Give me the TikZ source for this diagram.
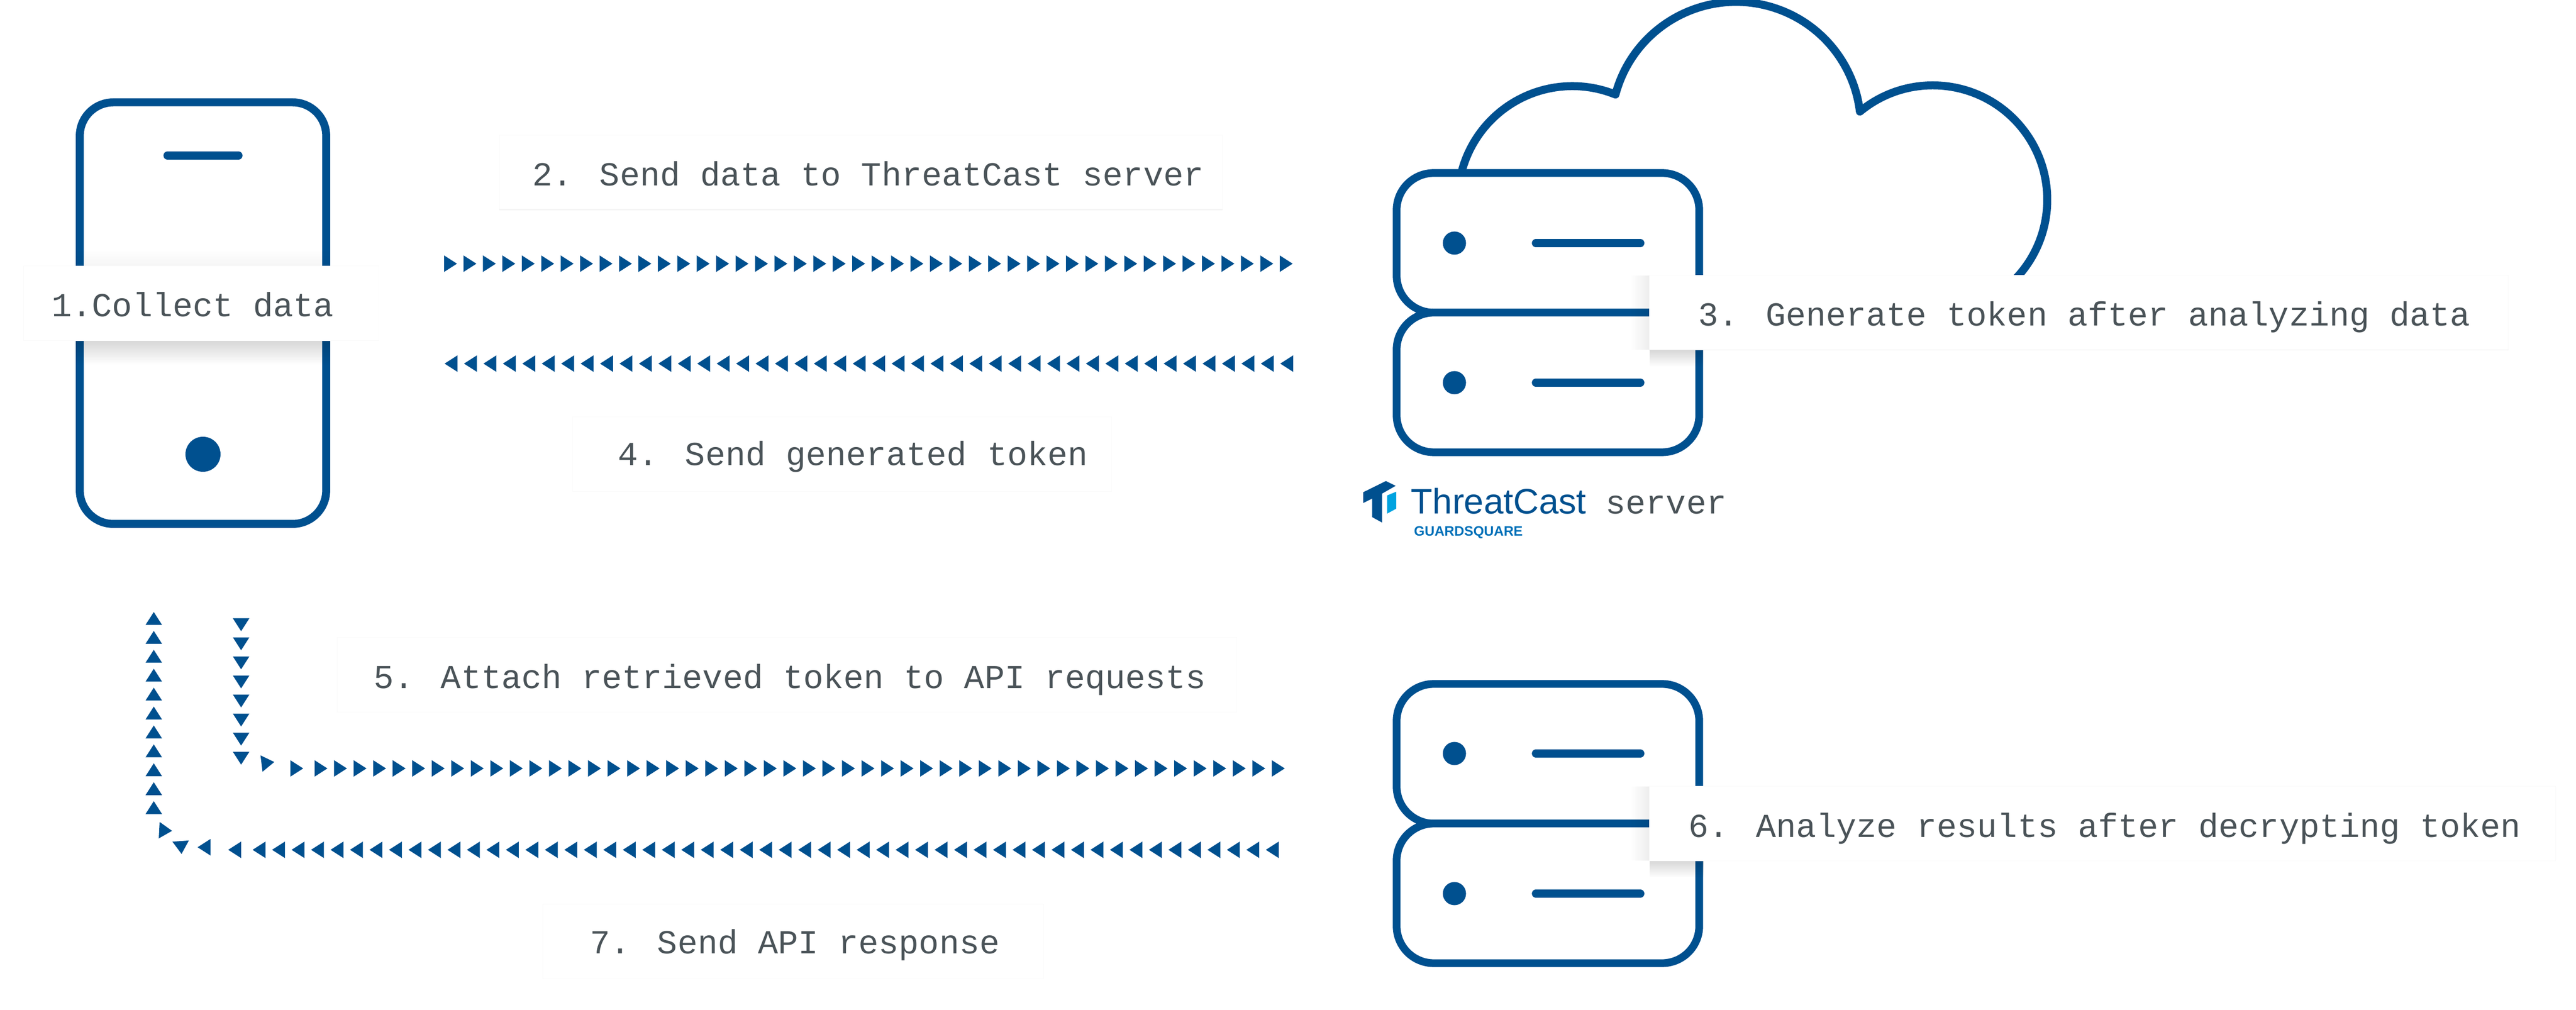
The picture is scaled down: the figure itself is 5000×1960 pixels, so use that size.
\documentclass[tikz,border=0pt]{standalone}
\usepackage{fontspec}
\usetikzlibrary{decorations.markings, fadings}
\newfontfamily\stepfont{Liberation Mono}
\newfontfamily\brandfont{Liberation Sans}
\definecolor{iconBlue}{HTML}{00508F}
\definecolor{stepGray}{HTML}{4A5358}
\definecolor{logoSky}{HTML}{00A3E0}
\definecolor{squareBlue}{HTML}{0070B8}
\tikzfading[name=fadeDown, top color=transparent!0, bottom color=transparent!100]
\tikzfading[name=fadeUp, bottom color=transparent!0, top color=transparent!100]
\tikzfading[name=fadeLeft, right color=transparent!0, left color=transparent!100]
\tikzset{triMark/.pic={\fill [iconBlue] (-1.25mm,-1.6mm) -- (1.25mm,0) -- (-1.25mm,1.6mm) -- cycle;}}
\tikzstyle{triChain} = [decorate, decoration={markings, mark=between positions 0 and 1 step #1 with {\pic [transform shape] {triMark};}}]
\tikzstyle{iconBox} = [rectangle, draw=iconBlue, line width=1.5mm, fill=white, rounded corners=7.2mm, minimum width=5.87cm, minimum height=2.71cm]
\tikzstyle{iconDot} = [circle, fill=iconBlue, inner sep=0pt, minimum size=4.5mm]
\tikzstyle{iconLine} = [draw=iconBlue, line width=1.55mm, line cap=round, line join=round]
\tikzstyle{stepCard} = [rectangle, fill=white, draw=black!2, line width=0.1mm, minimum height=1.44cm]
\tikzstyle{stepText} = [anchor=base west, inner sep=0pt, text=stepGray, font=\stepfont\fontsize{18.52pt}{22pt}\selectfont]
\tikzstyle{cardEdge} = [draw=black!9, line width=0.1mm]
\tikzstyle{cardShadow} = [black, opacity=.16]

\begin{document}
\begin{tikzpicture}[x=0.01cm, y=0.01cm]
    \useasboundingbox (0,0) rectangle (5000,1960);

    % Cloud
    \draw [iconLine] (2838,1630) arc [start angle=164.5, end angle=67.9, radius=2.22cm]
        arc [start angle=165.1, end angle=6.9, radius=2.42cm]
        arc [start angle=129.6, end angle=-45, radius=2.22cm];

    % Nodes
    \node (phone) [iconBox, minimum width=4.78cm, minimum height=8.18cm, line width=1.55mm, rounded corners=6.5mm] at (394,1352) {};
    \node (homeDot) [iconDot, minimum size=6.8mm] at (394,1078) {};
    \coordinate (speakerLeft) at (325,1658);
    \coordinate (speakerRight) at (463,1658);

    \node (serverTop) [iconBox] at (3004.5,1488.5) {};
    \node (serverBottom) [iconBox] at (3004.5,1217.5) {};
    \node (topDot) [iconDot] at (2823,1488) {};
    \node (bottomDot) [iconDot] at (2823,1217) {};
    \node (apiTop) [iconBox] at (3004.5,496.5) {};
    \node (apiBottom) [iconBox] at (3004.5,225.5) {};
    \node (apiTopDot) [iconDot] at (2823,497) {};
    \node (apiBottomDot) [iconDot] at (2823,225) {};

    \draw [iconLine] (speakerLeft) -- (speakerRight);
    \draw [iconLine] (2981,1488) -- (3184,1488);
    \draw [iconLine] (2981,1217) -- (3184,1217);
    \draw [iconLine] (2981,497) -- (3184,497);
    \draw [iconLine] (2981,225) -- (3184,225);

    % Shadows under the cards
    \fill [cardShadow, path fading=fadeDown] (147,1299) rectangle (641,1252);
    \fill [cardShadow, path fading=fadeUp, opacity=.04] (147,1443) rectangle (641,1475);
    \fill [cardShadow, path fading=fadeDown] (3202,1281) rectangle (3306,1248);
    \fill [cardShadow, path fading=fadeLeft, opacity=.07] (3164,1281) rectangle (3202,1425);
    \fill [cardShadow, path fading=fadeDown] (3202,289) rectangle (3307,256);
    \fill [cardShadow, path fading=fadeLeft, opacity=.07] (3164,289) rectangle (3202,433);

    % Cards
    \node (collectCard) [stepCard, minimum width=6.89cm] at (390.5,1371) {};
    \node (sendCard) [stepCard, minimum width=14.02cm] at (1671,1625) {};
    \node (generateCard) [stepCard, minimum width=16.66cm] at (4035,1353) {};
    \node (tokenCard) [stepCard, minimum width=10.45cm] at (1634.5,1078) {};
    \node (attachCard) [stepCard, minimum width=17.45cm] at (1527.5,650) {};
    \node (analyzeCard) [stepCard, minimum width=17.58cm] at (4081,361) {};
    \node (responseCard) [stepCard, minimum width=9.71cm] at (1539.5,132) {};
    \draw [cardEdge] (sendCard.south west) -- (sendCard.south east);
    \draw [cardEdge] (generateCard.south west) -- (generateCard.south east);

    % Labels
    \node (collectText) [stepText] at (100,1345) {1.Collect data};
    \node (sendText) [stepText] at (1033,1599) {2. Send data to ThreatCast server};
    \node (generateText) [stepText] at (3296,1327) {3. Generate token after analyzing data};
    \node (tokenText) [stepText] at (1199,1056) {4. Send generated token};
    \node (attachText) [stepText] at (725,623) {5. Attach retrieved token to API requests};
    \node (analyzeText) [stepText] at (3277,335) {6. Analyze results after decrypting token};
    \node (responseText) [stepText] at (1145,109) {7. Send API response};

    % Logo
    \fill [iconBlue] (2646,1004.3) -- (2690,1026) -- (2709,1016.7) -- (2682.7,1001.7) -- (2682.7,945.3) -- (2663.3,956) -- (2663.3,992) -- (2646,983.3) -- cycle;
    \fill [logoSky] (2692.3,998) -- (2710,1005.3) -- (2710,972.3) -- (2692.3,962.7) -- cycle;
    \node (threatCast) [anchor=base west, inner sep=0pt, text=iconBlue, font=\brandfont\fontsize{19.56pt}{22pt}\selectfont] at (2738,962) {ThreatCast};
    \node (serverText) [stepText] at (3116,962) {server};
    \node (guardSquare) [anchor=base west, inner sep=0pt, text=squareBlue, font=\brandfont\bfseries\fontsize{7.55pt}{9pt}\selectfont] at (2744,919) {GUARDSQUARE};

    % Arrows
    \coordinate (sendStart) at (874.5,1448);
    \coordinate (sendEnd) at (2497,1448);
    \coordinate (tokenStart) at (2497.5,1254);
    \coordinate (tokenEnd) at (873,1254);
    \coordinate (attachDown) at (468,747);
    \coordinate (attachCorner) at (468,485);
    \coordinate (attachStart) at (623,468);
    \coordinate (attachEnd) at (2482,468);
    \coordinate (responseStart) at (2469.5,310);
    \coordinate (responseEnd) at (501,310);
    \coordinate (responseUp) at (298.5,392);
    \coordinate (responseTop) at (298.5,761);

    \path [triChain=3.77mm] (sendStart) -- (sendEnd);
    \path [triChain=3.77mm] (tokenStart) -- (tokenEnd);
    \path [triChain=3.7mm] (attachDown) -- (attachCorner);
    \path [triChain=3.79mm] (attachStart) -- (attachEnd);
    \path [triChain=3.78mm] (responseStart) -- (responseEnd);
    \path [triChain=3.67mm] (responseUp) -- (responseTop);

    \pic [rotate=7, transform shape] at (520,479) {triMark};
    \pic [transform shape] at (576,468) {triMark};
    \pic [rotate=180, transform shape] at (455.5,310) {triMark};
    \pic [rotate=180, transform shape] at (396,315) {triMark};
    \pic [rotate=-86, transform shape] at (351.5,314.5) {triMark};
    \pic [rotate=-3, transform shape] at (321.5,347.5) {triMark};

\end{tikzpicture}
\end{document}
